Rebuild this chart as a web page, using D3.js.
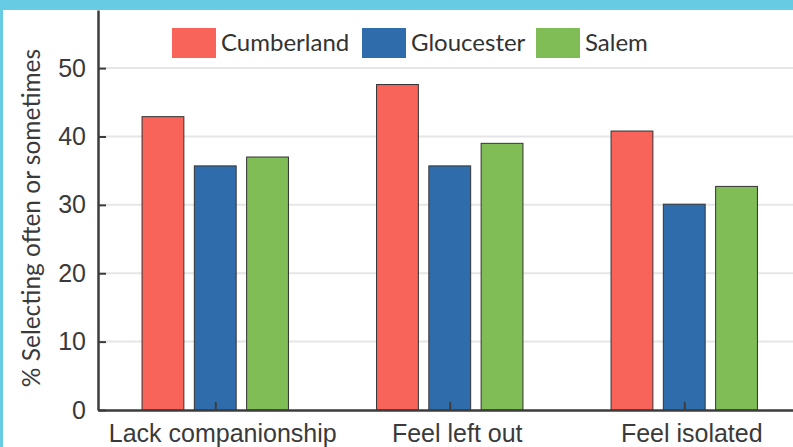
<!DOCTYPE html>
<html>
<head>
<meta charset="utf-8">
<script src="https://cdn.jsdelivr.net/npm/d3@7"></script>
<style>
    html, body { margin: 0; padding: 0; background: #fff; }
    svg { display: block; font-family: Lato, 'Open Sans', sans-serif; }
</style>
</head>
<body>
<div id="chart"></div>
<script>
const categories = ['Lack companionship', 'Feel left out', 'Feel isolated'];
const seriesNames = ['Cumberland', 'Gloucester', 'Salem'];
const cumberland = [42.9, 47.6, 40.8];
const gloucester = [35.7, 35.7, 30.1];
const salem = [37.0, 39.0, 32.7];
const yTicks = [0, 10, 20, 30, 40, 50];
const colors = ['#f8635a', '#2f6cab', '#80bd57'];

const width = 793, height = 447;
const seriesValues = [cumberland, gloucester, salem];

const svg = d3.select('#chart').append('svg')
    .attr('width', width)
    .attr('height', height);

// frame strips
svg.append('rect').attr('x', 0).attr('y', 0).attr('width', width).attr('height', 10).attr('fill', '#66cbe3');
svg.append('rect').attr('x', 0).attr('y', 0).attr('width', 3).attr('height', height).attr('fill', '#66cbe3');

const x0 = d3.scalePoint().domain(categories).range([98, 801.5]).padding(0.5);
const x1 = d3.scaleBand().domain(seriesNames).range([-73.2, 73.2]).paddingInner(0.2).paddingOuter(0);
const y = d3.scaleLinear().domain([0, 58.5]).range([410, 10]);

// gridlines
svg.append('g')
    .selectAll('line')
    .data(yTicks.filter(d => d > 0))
    .enter().append('line')
    .attr('x1', 98).attr('x2', width)
    .attr('y1', d => y(d)).attr('y2', d => y(d))
    .attr('stroke', '#e6e6e6')
    .attr('stroke-width', 2);

// bars
const groups = svg.append('g')
    .selectAll('g')
    .data(categories)
    .enter().append('g')
    .attr('transform', d => `translate(${x0(d)},0)`);

groups.selectAll('rect')
    .data((c, i) => seriesNames.map((s, j) => ({ s, v: seriesValues[j][i], j })))
    .enter().append('rect')
    .attr('x', d => x1(d.s))
    .attr('width', x1.bandwidth())
    .attr('y', d => y(d.v))
    .attr('height', d => y(0) - y(d.v))
    .attr('fill', d => colors[d.j])
    .attr('stroke', '#333')
    .attr('stroke-width', 1);

// y axis
const yAxis = svg.append('g')
    .attr('transform', 'translate(98,0)')
    .call(d3.axisRight(y).tickValues(yTicks).tickSize(8).tickSizeOuter(0));
yAxis.select('.domain').attr('stroke', '#3c3c3c').attr('stroke-width', 2.5);
yAxis.selectAll('.tick line').attr('stroke', '#3c3c3c').attr('stroke-width', 2);
yAxis.selectAll('.tick text')
    .attr('x', -12)
    .attr('text-anchor', 'end')
    .attr('font-size', 25)
    .attr('fill', '#3a3a3a');

// x axis
const xAxis = svg.append('g')
    .attr('transform', 'translate(0,410)')
    .call(d3.axisTop(x0).tickSize(8).tickSizeOuter(0));
xAxis.select('.domain').attr('stroke', '#3c3c3c').attr('stroke-width', 2.5);
xAxis.selectAll('.tick line').attr('stroke', '#3c3c3c').attr('stroke-width', 2);
xAxis.selectAll('.tick text')
    .attr('x', 7)
    .attr('y', 32)
    .attr('dy', 0)
    .attr('font-size', 25)
    .attr('fill', '#3a3a3a');

// y label
svg.append('text')
    .attr('transform', 'translate(40,218) rotate(-90)')
    .attr('text-anchor', 'middle')
    .attr('font-size', 24.5)
    .attr('fill', '#3a3a3a')
    .text('% Selecting often or sometimes');

// legend
const legendX = [172, 362, 536];
const legend = svg.append('g')
    .selectAll('g')
    .data(seriesNames)
    .enter().append('g')
    .attr('transform', (d, i) => `translate(${legendX[i]},28)`);

legend.append('rect')
    .attr('width', 44)
    .attr('height', 30)
    .attr('fill', (d, i) => colors[i]);

legend.append('text')
    .attr('x', 49)
    .attr('y', 23)
    .attr('font-size', 24)
    .attr('fill', '#333')
    .text(d => d);
</script>
</body>
</html>
